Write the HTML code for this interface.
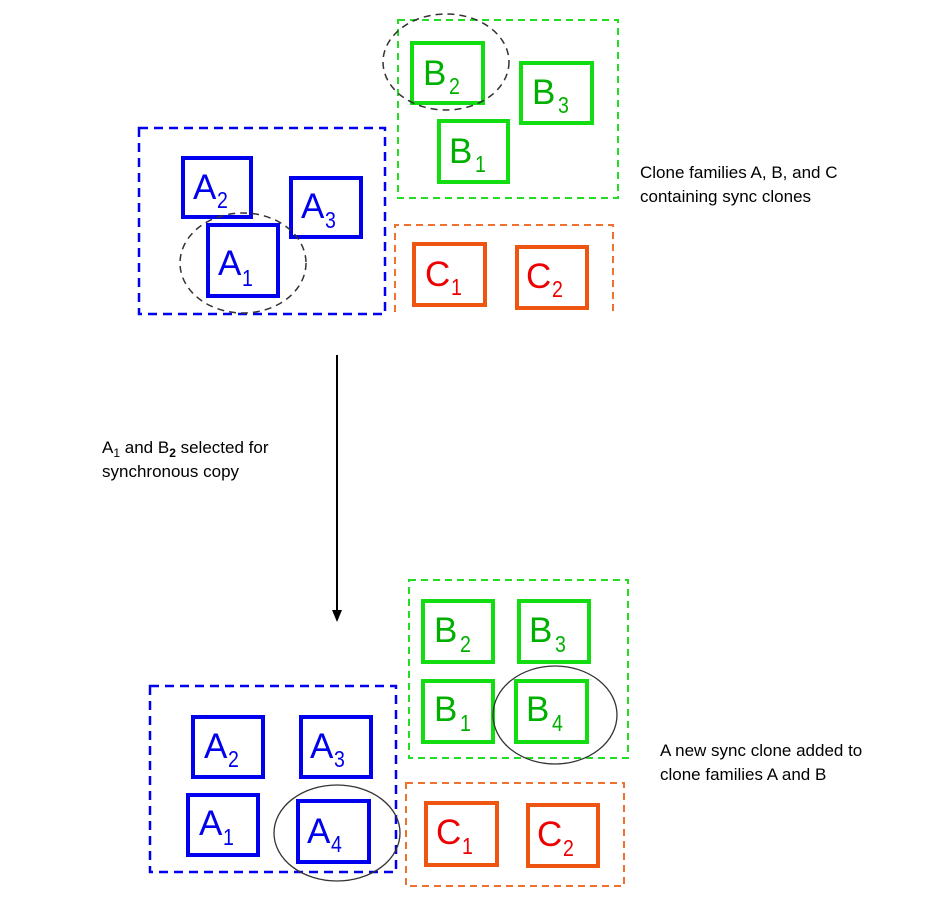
<!DOCTYPE html>
<html><head><meta charset="utf-8"><style>
body{margin:0;background:#fff}
svg{display:block}
text{font-family:"Liberation Sans",sans-serif}
.l{font-size:35px}
.s{font-size:23px}
.t{font-size:17px;fill:#000}
</style></head><body>
<svg width="935" height="922" viewBox="0 0 935 922">
<!-- TOP -->
<rect x="139" y="128" width="246" height="186" fill="none" stroke="#0000ee" stroke-width="2.5" stroke-dasharray="9,6"/>
<rect x="398" y="20" width="220" height="178" fill="none" stroke="#22dd22" stroke-width="2" stroke-dasharray="7,5"/>
<path d="M395,312 L395,225 L613,225 L613,312" fill="none" stroke="#f07030" stroke-width="2" stroke-dasharray="7,5"/>
<g fill="none" stroke-width="4">
<rect x="183" y="158" width="68" height="59" stroke="#0000ee"/>
<rect x="291" y="178" width="70" height="59" stroke="#0000ee"/>
<rect x="208" y="225" width="70" height="71" stroke="#0000ee"/>
<rect x="412" y="43" width="71" height="60" stroke="#11dd11"/>
<rect x="521" y="63" width="71" height="60" stroke="#11dd11"/>
<rect x="439" y="121" width="69" height="61" stroke="#11dd11"/>
<rect x="414" y="244" width="71" height="61" stroke="#ee5511"/>
<rect x="517" y="247" width="70" height="61" stroke="#ee5511"/>
</g>
<ellipse cx="243" cy="263" rx="63" ry="50" fill="none" stroke="#333" stroke-width="1.5" stroke-dasharray="7,5"/>
<ellipse cx="446" cy="62" rx="63" ry="48" fill="none" stroke="#333" stroke-width="1.5" stroke-dasharray="7,5"/>
<g fill="#0000ee">
<text x="193" y="199" class="l">A</text><text transform="translate(217,208) scale(0.85,1)" class="s">2</text>
<text x="301" y="218" class="l">A</text><text transform="translate(325,228) scale(0.85,1)" class="s">3</text>
<text x="218" y="275" class="l">A</text><text transform="translate(242,286) scale(0.85,1)" class="s">1</text>
</g>
<g fill="#00b000">
<text x="423" y="85" class="l">B</text><text transform="translate(449,94) scale(0.85,1)" class="s">2</text>
<text x="532" y="104" class="l">B</text><text transform="translate(558,113) scale(0.85,1)" class="s">3</text>
<text x="449" y="163" class="l">B</text><text transform="translate(475,172) scale(0.85,1)" class="s">1</text>
</g>
<g fill="#ee0000">
<text x="425" y="286" class="l">C</text><text transform="translate(451,295) scale(0.85,1)" class="s">1</text>
<text x="526" y="288" class="l">C</text><text transform="translate(552,297) scale(0.85,1)" class="s">2</text>
</g>
<text x="640" y="178" class="t">Clone families A, B, and C</text>
<text x="640" y="202" class="t">containing sync clones</text>
<!-- arrow -->
<line x1="337" y1="355" x2="337" y2="610" stroke="#000" stroke-width="2"/>
<path d="M332,610 L342,610 L337,622 Z" fill="#000"/>
<text x="102" y="453" class="t">A<tspan font-size="12" dy="4">1</tspan><tspan dy="-4"> and B</tspan><tspan font-size="12" dy="4" font-weight="bold">2</tspan><tspan dy="-4"> selected for</tspan></text>
<text x="102" y="477" class="t">synchronous copy</text>
<!-- BOTTOM -->
<rect x="150" y="686" width="246" height="186" fill="none" stroke="#0000ee" stroke-width="2.5" stroke-dasharray="9,6"/>
<rect x="409" y="580" width="219" height="178" fill="none" stroke="#22dd22" stroke-width="2" stroke-dasharray="7,5"/>
<rect x="406" y="783" width="218" height="103" fill="none" stroke="#f07030" stroke-width="2" stroke-dasharray="7,5"/>
<g fill="none" stroke-width="4">
<rect x="193" y="717" width="70" height="60" stroke="#0000ee"/>
<rect x="301" y="717" width="70" height="60" stroke="#0000ee"/>
<rect x="188" y="795" width="70" height="60" stroke="#0000ee"/>
<rect x="298" y="801" width="71" height="61" stroke="#0000ee"/>
<rect x="423" y="601" width="70" height="61" stroke="#11dd11"/>
<rect x="519" y="601" width="70" height="61" stroke="#11dd11"/>
<rect x="423" y="681" width="70" height="61" stroke="#11dd11"/>
<rect x="516" y="681" width="71" height="61" stroke="#11dd11"/>
<rect x="426" y="803" width="71" height="62" stroke="#ee5511"/>
<rect x="528" y="805" width="70" height="61" stroke="#ee5511"/>
</g>
<ellipse cx="337" cy="833" rx="63" ry="48" fill="none" stroke="#333" stroke-width="1.3"/>
<ellipse cx="555" cy="715" rx="62" ry="49" fill="none" stroke="#333" stroke-width="1.3"/>
<g fill="#0000ee">
<text x="204" y="758" class="l">A</text><text transform="translate(228,767) scale(0.85,1)" class="s">2</text>
<text x="310" y="758" class="l">A</text><text transform="translate(334,767) scale(0.85,1)" class="s">3</text>
<text x="199" y="835" class="l">A</text><text transform="translate(223,845) scale(0.85,1)" class="s">1</text>
<text x="307" y="843" class="l">A</text><text transform="translate(331,852) scale(0.85,1)" class="s">4</text>
</g>
<g fill="#00b000">
<text x="434" y="642" class="l">B</text><text transform="translate(460,652) scale(0.85,1)" class="s">2</text>
<text x="529" y="642" class="l">B</text><text transform="translate(555,652) scale(0.85,1)" class="s">3</text>
<text x="434" y="721" class="l">B</text><text transform="translate(460,731) scale(0.85,1)" class="s">1</text>
<text x="526" y="721" class="l">B</text><text transform="translate(552,731) scale(0.85,1)" class="s">4</text>
</g>
<g fill="#ee0000">
<text x="436" y="844" class="l">C</text><text transform="translate(462,854) scale(0.85,1)" class="s">1</text>
<text x="537" y="846" class="l">C</text><text transform="translate(563,856) scale(0.85,1)" class="s">2</text>
</g>
<text x="660" y="756" class="t">A new sync clone added to</text>
<text x="660" y="780" class="t">clone families A and B</text>
</svg>
</body></html>
